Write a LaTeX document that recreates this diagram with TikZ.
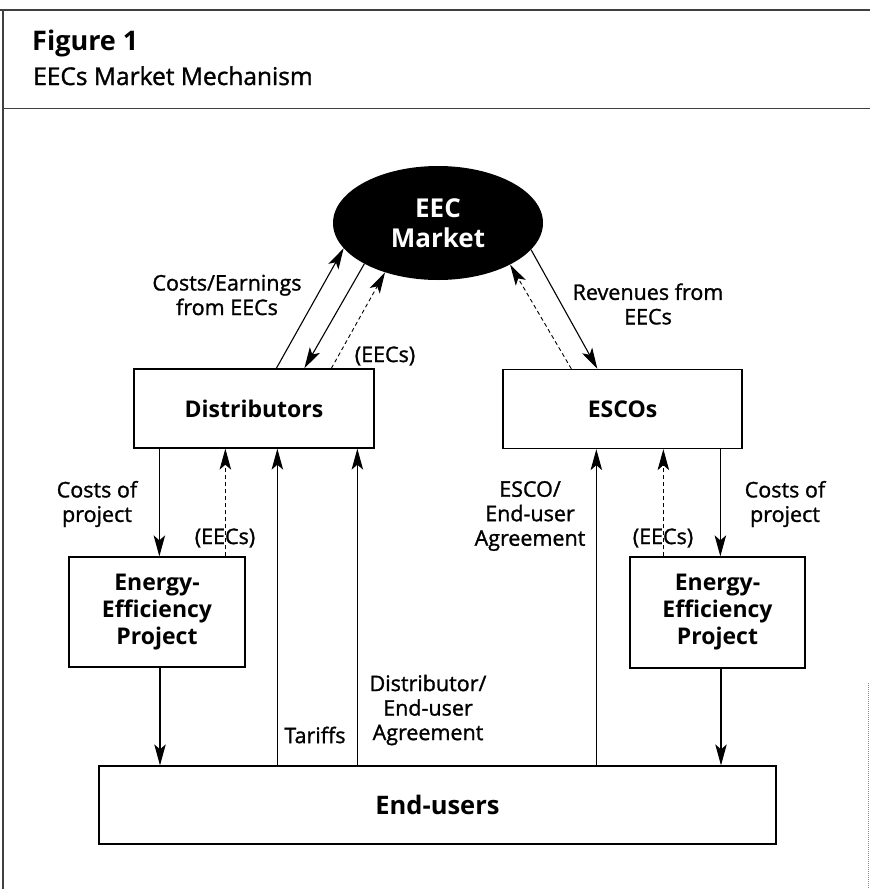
\documentclass[tikz,border=0pt]{standalone}
\usepackage{fontspec}
\setmainfont{Open Sans}
\newfontfamily\lblfont{Open Sans}[FakeBold=1.3]
\usetikzlibrary{arrows.meta,shapes.geometric}

\begin{document}
\begin{tikzpicture}[x=1pt,y=-1pt,
  lbl/.style={font=\lblfont\fontsize{21.5}{24.5}\selectfont, align=center, inner sep=0pt},
  boxlbl/.style={draw, line width=1.3pt, font=\bfseries\fontsize{23}{27}\selectfont,
                 align=center, inner sep=0pt},
  flow/.style={line width=1.1pt, -{Stealth[length=21pt,width=11.5pt,inset=5pt]}},
  ret/.style={flow, line width=0.9pt, dash pattern=on 4pt off 3pt},
  rule/.style={line width=1.1pt, black!75},
]
\useasboundingbox (0,0) rectangle (870,889);

% frame and header
\draw[rule] (0,10) -- (870,10);
\draw[rule, line width=0.8pt] (3,108) -- (870,108);
\draw[rule] (3,10) -- (3,889);
\draw[black!45, line width=0.8pt, dash pattern=on 1pt off 1pt] (868,683) -- (868,889);
\node[anchor=base west, inner sep=0pt, font=\bfseries\fontsize{27}{30}\selectfont] (title) at (32,50) {Figure 1};
\node[anchor=base west, inner sep=0pt, font=\lblfont\fontsize{24.5}{25}\selectfont] (subtitle) at (33,85) {EECs Market Mechanism};

% market
\node[ellipse, fill=black, text=white, minimum width=210pt, minimum height=114pt, inner sep=0pt,
      font=\bfseries\fontsize{26}{30}\selectfont, align=center] (mkt) at (438,223) {EEC\\Market};

% boxes
\node[boxlbl, minimum width=240pt, minimum height=79pt] (dist) at (254,408.5) {Distributors};
\node[boxlbl, minimum width=239pt, minimum height=79pt] (esco) at (622.5,409) {ESCOs};
\node[boxlbl, minimum width=176pt, minimum height=110pt] (eepL) at (157,612) {Energy-\\Efficiency\\Project};
\node[boxlbl, minimum width=175pt, minimum height=111pt] (eepR) at (717.5,612.5) {Energy-\\Efficiency\\Project};
\node[boxlbl, minimum width=677pt, minimum height=78pt, font=\bfseries\fontsize{25.5}{27}\selectfont] (users) at (437.5,805) {End-users};

% market links
\draw[flow] ([xshift=143pt]dist.north west) -- (mkt.195);
\draw[flow] (mkt.209) -- ([xshift=171pt]dist.north west);
\draw[ret]  ([xshift=198pt]dist.north west) -- (mkt.223);
\draw[ret]  ([xshift=69pt]esco.north west) -- (mkt.330);
\draw[flow] (mkt.344) -- ([xshift=95pt]esco.north west);

% distributor side
\draw[flow] ([xshift=26pt]dist.south west) -- ([xshift=26pt]dist.south west |- eepL.north);
\draw[ret]  ([xshift=92pt]dist.south west |- eepL.north) -- ([xshift=92pt]dist.south west);
\draw[flow] ([xshift=144pt]dist.south west |- users.north) -- ([xshift=144pt]dist.south west);
\draw[flow] ([xshift=224pt]dist.south west |- users.north) -- ([xshift=224pt]dist.south west);
\draw[flow] ([xshift=3pt]eepL.south) -- ([xshift=3pt]eepL.south |- users.north);

% ESCO side
\draw[flow] ([xshift=94pt]esco.south west |- users.north) -- ([xshift=94pt]esco.south west);
\draw[ret]  ([xshift=161pt]esco.south west |- eepR.north) -- ([xshift=161pt]esco.south west);
\draw[flow] ([xshift=218pt]esco.south west) -- ([xshift=218pt]esco.south west |- eepR.north);
\draw[flow] ([xshift=3.5pt]eepR.south) -- ([xshift=3.5pt]eepR.south |- users.north);

% labels
\node[lbl] (l1) at (227,295) {Costs/Earnings\\from EECs};
\node[lbl] (l2) at (385,356) {(EECs)};
\node[lbl] (l3) at (648,304) {Revenues from\\EECs};
\node[lbl] (l4) at (97,504) {Costs of\\project};
\node[lbl] (l5) at (225,538) {(EECs)};
\node[lbl] (l6) at (530,516) {ESCO/\\End-user\\Agreement};
\node[lbl] (l7) at (663,538) {(EECs)};
\node[lbl] (l8) at (785,504) {Costs of\\project};
\node[lbl] (l9) at (315,735) {Tariffs};
\node[lbl] (l10) at (428,710) {Distributor/\\End-user\\Agreement};
\end{tikzpicture}
\end{document}
